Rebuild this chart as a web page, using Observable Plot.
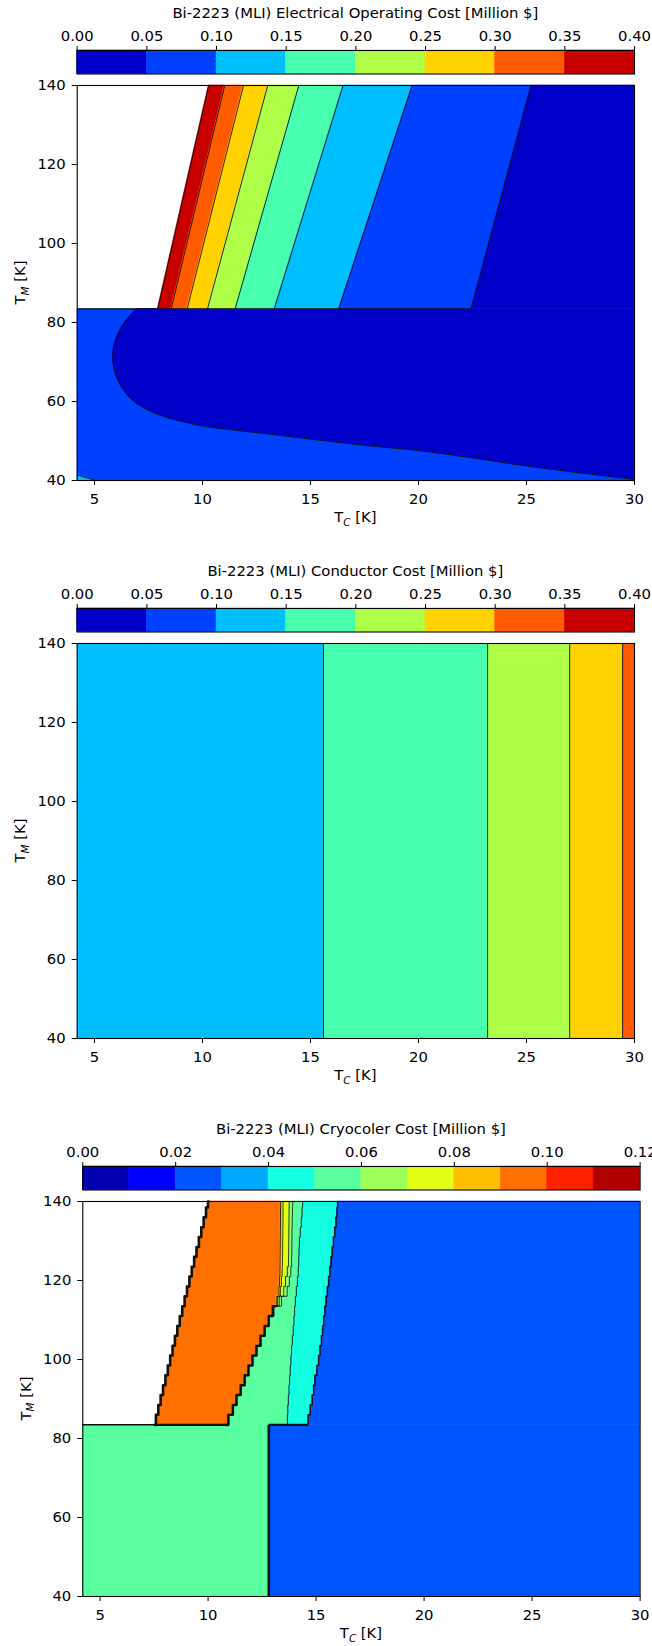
<!DOCTYPE html>
<html>
<head>
<meta charset="utf-8">
<script src="https://cdn.jsdelivr.net/npm/d3@7"></script>
<script src="https://cdn.jsdelivr.net/npm/@observablehq/plot@0.6"></script>
<style>
  html, body { margin: 0; padding: 0; background: #fff; }
  #root { position: relative; width: 652px; height: 1646px; overflow: hidden; }
  .part { position: absolute; left: 0; }
</style>
</head>
<body>
<div id="root"></div>
<script>
// ================= DATA =================
// shared axes
const tcDomain = [4.2, 30];
const tmDomain = [40, 140];
const tcTicks = [5, 10, 15, 20, 25, 30];
const tmTicks = [40, 60, 80, 100, 120, 140];

// colormaps (jet sampled at band midpoints)
const jet8 = ["#0000c8", "#0040ff", "#00bfff", "#48ffaf", "#afff48", "#ffd200", "#ff5c00", "#c80000"];
const jet12 = ["#0000b0", "#0000ff", "#0055ff", "#00aaff", "#15ffe2", "#59ff9e",
               "#9eff59", "#e2ff15", "#ffbf00", "#ff7000", "#ff2100", "#b00000"];

// ---- panel 1: electrical operating cost ----
const eoTitle = "Bi-2223 (MLI) Electrical Operating Cost [Million $]";
const eoLevels = [0, 0.05, 0.10, 0.15, 0.20, 0.25, 0.30, 0.35, 0.40];
const eoStepTM = 83.4;
const eoEdgeBottomTC = [7.93, 8.55, 9.29, 10.23, 11.51, 13.32, 16.31, 22.44];
const eoEdgeTopTC    = [10.29, 11.03, 11.90, 13.02, 14.46, 16.51, 19.71, 25.22];
const eoBandValue    = [0.375, 0.325, 0.275, 0.225, 0.175, 0.125, 0.075, 0.025];
const eoLowerValue = 0.075;
const eoLobeValue = 0.025;
const eoLobeTM = [40.25, 43.4, 45.9, 47.6, 49.0, 52.0, 53.9, 56.5, 59.4, 62.8, 67.0, 71.6, 75.4, 79.7, 83.4];
const eoLobeTC = [30, 25.34, 22.26, 19.94, 17.32, 12.69, 9.91, 8.06, 6.98, 6.36, 5.97, 5.85, 5.97, 6.36, 6.95];
const eoCornerValue = 0.125;
const eoCornerTM = 41.4;
const eoCornerTC = 5.05;

// ---- panel 2: conductor cost ----
const condTitle = "Bi-2223 (MLI) Conductor Cost [Million $]";
const condEdgesTC = [15.6, 23.2, 27.0, 29.45];
const condBandValue = [0.125, 0.175, 0.225, 0.275, 0.325];

// ---- panel 3: cryocooler cost ----
const cryoTitle = "Bi-2223 (MLI) Cryocoler Cost [Million $]";
const cryoLevels = [0, 0.01, 0.02, 0.03, 0.04, 0.05, 0.06, 0.07, 0.08, 0.09, 0.10, 0.11, 0.12];
const cryoTicks = [0, 0.02, 0.04, 0.06, 0.08, 0.10, 0.12];
const cryoStepTM = 83.45;
const cryoSplitTC = 12.81;
const cryoLowLeftValue = 0.055;
const cryoLowRightValue = 0.025;
const cryoGridTM = [83.45, 86, 88.5, 91, 93.5, 96, 98.5, 101, 103.5, 106, 108.5, 111,
                    113.5, 116, 118.5, 121, 123.5, 126, 128.5, 131, 133.5, 136, 138.5, 140];
const cryoB0 = [7.53, 7.64, 7.75, 7.86, 7.97, 8.08, 8.19, 8.30, 8.41, 8.52, 8.63, 8.75,
                8.86, 8.97, 9.08, 9.19, 9.30, 9.41, 9.52, 9.63, 9.74, 9.85, 9.96, 10.03];
const cryoB1 = [10.81, 11.07, 11.22, 11.41, 11.60, 11.78, 11.96, 12.15, 12.33, 12.52, 12.71, 12.90,
                13.10, 13.26, 13.30, 13.32, 13.33, 13.33, 13.34, 13.34, 13.35, 13.35, 13.36, 13.36];
const cryoB2 = [10.81, 11.07, 11.22, 11.41, 11.60, 11.78, 11.96, 12.15, 12.33, 12.52, 12.71, 12.90,
                13.12, 13.32, 13.38, 13.42, 13.44, 13.45, 13.45, 13.46, 13.46, 13.47, 13.47, 13.47];
const cryoB3 = [10.81, 11.07, 11.22, 11.41, 11.60, 11.78, 11.96, 12.15, 12.33, 12.52, 12.71, 12.90,
                13.14, 13.45, 13.55, 13.62, 13.72, 13.73, 13.73, 13.74, 13.74, 13.75, 13.75, 13.76];
const cryoB4 = [10.81, 11.07, 11.22, 11.41, 11.60, 11.78, 11.96, 12.15, 12.33, 12.52, 12.71, 12.90,
                13.20, 13.60, 13.72, 13.80, 13.86, 13.87, 13.88, 13.88, 13.89, 13.90, 13.91, 13.92];
const cryoB5 = [13.66, 13.68, 13.70, 13.73, 13.76, 13.79, 13.82, 13.85, 13.88, 13.92, 13.96, 13.99,
                14.02, 14.06, 14.11, 14.16, 14.19, 14.20, 14.22, 14.24, 14.30, 14.33, 14.37, 14.39];
const cryoB6 = [14.59, 14.68, 14.78, 14.86, 14.92, 14.98, 15.09, 15.15, 15.22, 15.28, 15.33, 15.38,
                15.44, 15.49, 15.56, 15.61, 15.67, 15.72, 15.78, 15.83, 15.90, 15.95, 15.99, 16.01];
const cryoBandValue = [0.095, 0.085, 0.075, 0.065, 0.055, 0.045, 0.025]; // right of B0..B6
const cryoThickUntilTM = 113.5;

// ================= LAYOUT / STYLE =================
const FONT = '"DejaVu Sans", sans-serif';
const FS = 14.8;
const PANEL_TOPS = [0, 558.3, 1116.3];
const PLOT_LEFT = [76.7, 76.7, 82.3];
const PLOT_W = 557.3;
const CB_TOP = 50, CB_H = 23.5;
const MAIN_TOP = 80, MAIN_MT = 5, FRAME_H = 395, MAIN_H = 460;
const LINE = "#111";
const SEAM = 0.6; // same-colour outline that hides anti-alias seams between fills

const root = document.getElementById("root");
function place(node, top) {
  const d = document.createElement("div");
  d.className = "part";
  d.style.top = top + "px";
  d.appendChild(node);
  root.appendChild(d);
}
const baseStyle = {fontFamily: FONT, fontSize: FS + "px", color: "#000", background: "transparent", overflow: "visible"};

function colorbar(levels, colors, ticks, title, left) {
  const bands = colors.map((c, i) => ({lo: levels[i], hi: levels[i + 1], v: (levels[i] + levels[i + 1]) / 2}));
  const svg = Plot.plot({
    width: 652, height: CB_TOP + CB_H + 3,
    marginTop: CB_TOP, marginBottom: 3, marginLeft: left, marginRight: 652 - left - PLOT_W,
    style: baseStyle,
    x: {domain: [levels[0], levels[levels.length - 1]]},
    color: {type: "threshold", domain: levels.slice(1, -1), range: colors},
    marks: [
      Plot.barX(bands, {x1: "lo", x2: "hi", fill: "v", stroke: "v", strokeWidth: SEAM}),
      Plot.frame({stroke: "#000", strokeWidth: 1.1}),
      Plot.axisX({anchor: "top", ticks, tickFormat: d3.format(".2f"), tickSize: 5, tickPadding: 5, label: null})
    ]
  });
  d3.select(svg).append("text")
    .attr("x", left + PLOT_W / 2).attr("y", CB_TOP - 32)
    .attr("text-anchor", "middle").attr("font-family", FONT).attr("font-size", FS).attr("fill", "#000")
    .text(title);
  return svg;
}

function subText(sel, main, sub, rest) {
  sel.append("tspan").text(main);
  sel.append("tspan").attr("font-size", FS * 0.7).attr("font-style", "italic").attr("dy", 3.5).text(sub);
  sel.append("tspan").attr("dy", -3.5).text(rest);
}

function mainPlot(left, thresholds, colors, marks) {
  const svg = Plot.plot({
    width: 652, height: MAIN_H,
    marginTop: MAIN_MT, marginBottom: MAIN_H - MAIN_MT - FRAME_H,
    marginLeft: left, marginRight: 652 - left - PLOT_W,
    style: baseStyle,
    x: {domain: tcDomain},
    y: {domain: tmDomain},
    color: {type: "threshold", domain: thresholds, range: colors},
    marks: [
      ...marks,
      Plot.frame({stroke: "#000", strokeWidth: 1.1}),
      Plot.axisX({ticks: tcTicks, tickSize: 5, tickPadding: 8, label: null}),
      Plot.axisY({ticks: tmTicks, tickSize: 5, tickPadding: 6.5, label: null})
    ]
  });
  const s = d3.select(svg);
  const xl = s.append("text").attr("x", left + PLOT_W / 2).attr("y", 442)
    .attr("text-anchor", "middle").attr("font-family", FONT).attr("font-size", FS).attr("fill", "#000");
  subText(xl, "T", "C", " [K]");
  const yl = s.append("text")
    .attr("transform", `translate(${left - 51.7},${MAIN_MT + FRAME_H / 2}) rotate(-90)`)
    .attr("text-anchor", "middle").attr("font-family", FONT).attr("font-size", FS).attr("fill", "#000");
  subText(yl, "T", "M", " [K]");
  return svg;
}

// ================= PANEL 1 =================
{
  const n = eoEdgeBottomTC.length;
  const upper = [];
  eoEdgeBottomTC.forEach((b, i) => {
    const nb = i + 1 < n ? eoEdgeBottomTC[i + 1] : tcDomain[1];
    const nt = i + 1 < n ? eoEdgeTopTC[i + 1] : tcDomain[1];
    upper.push({band: i, tm: eoStepTM, x1: b, x2: nb, v: eoBandValue[i]});
    upper.push({band: i, tm: tmDomain[1], x1: eoEdgeTopTC[i], x2: nt, v: eoBandValue[i]});
  });
  const edges = eoEdgeBottomTC.map((b, i) => ({xb: b, xt: eoEdgeTopTC[i]}));
  const lobe = eoLobeTM.map((tm, i) => ({tm, x1: eoLobeTC[i], x2: tcDomain[1], v: eoLobeValue}));
  const lower = [{x1: tcDomain[0], x2: tcDomain[1], y1: tmDomain[0], y2: eoStepTM, v: eoLowerValue}];
  const corner = [
    {tm: tmDomain[0], x1: tcDomain[0], x2: eoCornerTC, v: eoCornerValue},
    {tm: eoCornerTM, x1: tcDomain[0], x2: tcDomain[0], v: eoCornerValue}
  ];
  const marks = [
    Plot.rect(lower, {x1: "x1", x2: "x2", y1: "y1", y2: "y2", fill: "v"}),
    Plot.areaX(corner, {y: "tm", x1: "x1", x2: "x2", fill: "v"}),
    Plot.areaX(lobe, {y: "tm", x1: "x1", x2: "x2", fill: "v", stroke: "v", strokeWidth: SEAM, curve: "catmull-rom"}),
    Plot.areaX(upper, {y: "tm", x1: "x1", x2: "x2", fill: "v", stroke: "v", strokeWidth: SEAM, z: "band"}),
    Plot.link(edges, {x1: "xb", y1: () => eoStepTM, x2: "xt", y2: () => tmDomain[1], stroke: LINE, strokeWidth: 0.9}),
    Plot.line(lobe, {x: "x1", y: "tm", curve: "catmull-rom", stroke: LINE, strokeWidth: 0.9}),
    Plot.link([{a: tcDomain[0], b: eoEdgeBottomTC[n - 1]}], {x1: "a", x2: "b", y1: () => eoStepTM, y2: () => eoStepTM, stroke: LINE, strokeWidth: 1.6}),
    Plot.link([{a: tcDomain[0], b: eoCornerTC}], {x1: "a", y1: () => eoCornerTM, x2: "b", y2: () => tmDomain[0], stroke: LINE, strokeWidth: 0.9})
  ];
  place(colorbar(eoLevels, jet8, eoLevels, eoTitle, PLOT_LEFT[0]), PANEL_TOPS[0]);
  place(mainPlot(PLOT_LEFT[0], eoLevels.slice(1, -1), jet8, marks), PANEL_TOPS[0] + MAIN_TOP);
}

// ================= PANEL 2 =================
{
  const bounds = [tcDomain[0], ...condEdgesTC, tcDomain[1]];
  const bands = condBandValue.map((v, i) => ({x1: bounds[i], x2: bounds[i + 1], v}));
  const marks = [
    Plot.barX(bands, {x1: "x1", x2: "x2", fill: "v"}),
    Plot.ruleX(condEdgesTC, {stroke: "#222", strokeWidth: 1})
  ];
  place(colorbar(eoLevels, jet8, eoLevels, condTitle, PLOT_LEFT[1]), PANEL_TOPS[1]);
  place(mainPlot(PLOT_LEFT[1], eoLevels.slice(1, -1), jet8, marks), PANEL_TOPS[1] + MAIN_TOP);
}

// ================= PANEL 3 =================
{
  const bnd = [cryoB0, cryoB1, cryoB2, cryoB3, cryoB4, cryoB5, cryoB6];
  const rows = cryoGridTM.map((tm, i) => ({tm, b: bnd.map(a => a[i])}));
  const bandRows = [];
  cryoBandValue.forEach((v, k) => {
    rows.forEach(r => bandRows.push({band: k, tm: r.tm, x1: r.b[k], x2: k + 1 < bnd.length ? r.b[k + 1] : tcDomain[1], v}));
  });
  const lower = [
    {x1: tcDomain[0], x2: cryoSplitTC, v: cryoLowLeftValue},
    {x1: cryoSplitTC, x2: tcDomain[1], v: cryoLowRightValue}
  ];
  const lineOf = (k, w, filter) => Plot.line(rows, {x: r => r.b[k], y: "tm", curve: "step", stroke: LINE, strokeWidth: w, filter});
  const marks = [
    Plot.rect(lower, {x1: "x1", x2: "x2", y1: () => tmDomain[0], y2: () => cryoStepTM, fill: "v", stroke: "v", strokeWidth: SEAM}),
    Plot.areaX(bandRows, {y: "tm", x1: "x1", x2: "x2", fill: "v", stroke: "v", strokeWidth: SEAM, z: "band", curve: "step"}),
    lineOf(6, 1.4), lineOf(5, 0.9), lineOf(4, 0.8), lineOf(3, 0.8), lineOf(2, 0.8), lineOf(1, 0.9),
    lineOf(1, 2.6, r => r.tm <= cryoThickUntilTM),
    lineOf(0, 2.6),
    Plot.link([{a: tcDomain[0], b: cryoB0[0], w: 1.5}, {a: cryoB0[0], b: cryoB1[0], w: 2.2}, {a: cryoSplitTC, b: cryoB6[0], w: 2.2}],
      {x1: "a", x2: "b", y1: () => cryoStepTM, y2: () => cryoStepTM, stroke: LINE, strokeWidth: "w"}),
    Plot.link([{x: cryoSplitTC}], {x1: "x", x2: "x", y1: () => tmDomain[0], y2: () => cryoStepTM, stroke: LINE, strokeWidth: 2.6})
  ];
  place(colorbar(cryoLevels, jet12, cryoTicks, cryoTitle, PLOT_LEFT[2]), PANEL_TOPS[2]);
  place(mainPlot(PLOT_LEFT[2], cryoLevels.slice(1, -1), jet12, marks), PANEL_TOPS[2] + MAIN_TOP);
}
</script>
</body>
</html>
